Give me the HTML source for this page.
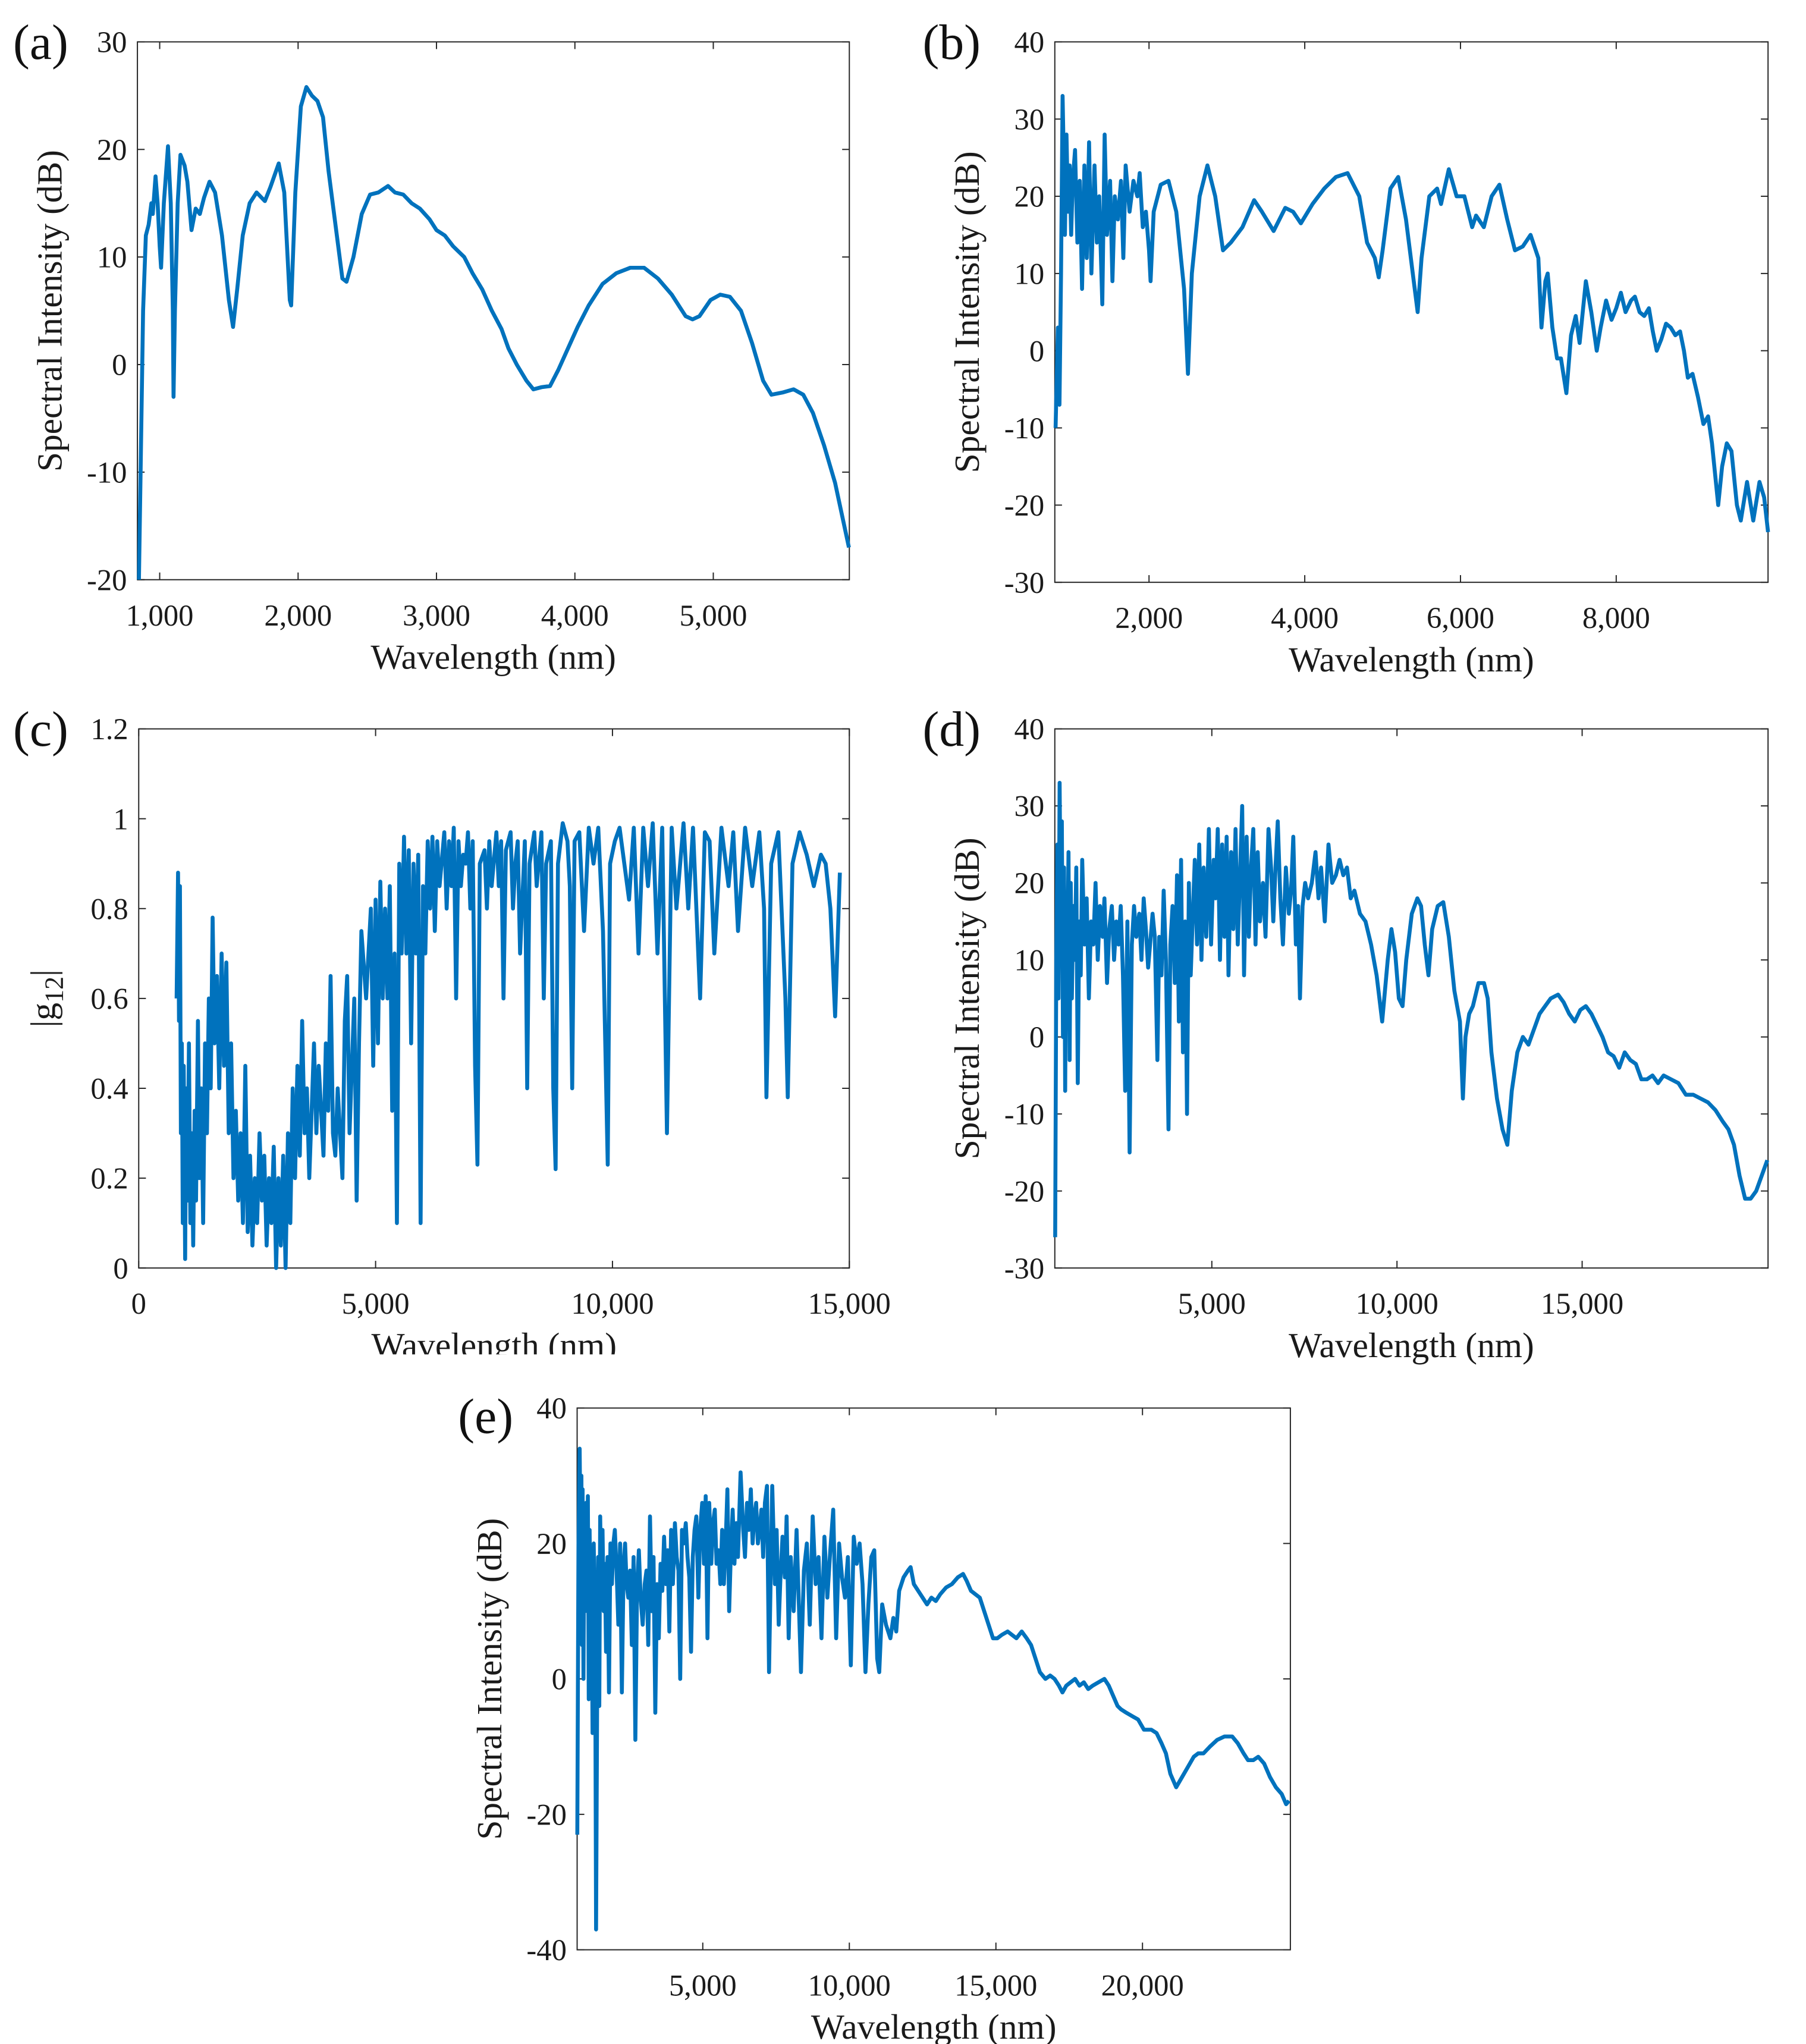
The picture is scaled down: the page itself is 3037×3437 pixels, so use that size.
<!DOCTYPE html>
<html><head><meta charset="utf-8"><style>
html,body{margin:0;padding:0;background:#fff;}
svg{display:block;font-family:"Liberation Serif",serif;}
</style></head><body>
<svg id="fig" xmlns="http://www.w3.org/2000/svg" width="3037" height="3437" viewBox="0 0 1380 1562" preserveAspectRatio="none"></svg>
<script>
// ---- data (wavelength nm, value) ----
const aX=[850,880,900,920,940,950,970,985,1000,1010,1030,1060,1080,1095,1100,1110,1130,1150,1180,1200,1230,1260,1290,1320,1360,1400,1450,1500,1530,1560,1600,1650,1700,1760,1800,1860,1900,1940,1950,1980,2020,2060,2100,2140,2180,2220,2280,2320,2350,2400,2460,2520,2580,2650,2700,2760,2820,2880,2950,3000,3060,3120,3200,3260,3330,3400,3470,3520,3580,3650,3700,3760,3820,3880,3950,4020,4100,4200,4300,4400,4500,4600,4700,4800,4850,4900,4980,5050,5120,5200,5280,5360,5420,5500,5580,5650,5720,5800,5880,5980];
const aY=[-20,5,12,13,15,14,17.5,15,11,9,15,20.3,15,5,-3,5,15,19.5,18.5,17,12.5,14.5,14,15.5,17,16,12,6,3.5,7,12,15,16,15.2,16.5,18.7,16,6,5.5,16,24,25.8,25,24.5,23,18,12,8,7.7,10,14,15.8,16,16.6,16,15.8,15,14.5,13.5,12.5,12,11,10,8.5,7,5,3.3,1.5,0,-1.5,-2.3,-2.1,-2,-0.5,1.5,3.5,5.5,7.5,8.5,9,9,8,6.5,4.5,4.2,4.5,6,6.5,6.3,5,2,-1.5,-2.8,-2.6,-2.3,-2.8,-4.5,-7.5,-11,-17];

const bX=[800,830,850,870,890,905,920,940,960,980,1000,1020,1050,1080,1110,1140,1170,1200,1230,1260,1300,1330,1360,1400,1430,1460,1500,1530,1560,1600,1640,1670,1700,1750,1800,1850,1880,1920,1960,2000,2020,2060,2150,2250,2350,2450,2500,2550,2650,2750,2850,2950,3050,3200,3350,3450,3600,3750,3850,3950,4100,4250,4400,4550,4700,4800,4900,4950,5000,5100,5200,5300,5400,5450,5500,5600,5700,5750,5850,5950,6050,6150,6200,6300,6400,6500,6600,6700,6800,6900,7000,7040,7090,7120,7180,7240,7290,7360,7420,7480,7530,7610,7680,7750,7800,7870,7940,8000,8060,8120,8190,8240,8300,8360,8420,8470,8520,8580,8640,8700,8760,8820,8870,8920,8980,9050,9120,9180,9230,9310,9360,9420,9480,9550,9600,9680,9760,9840,9900,9950];
const bY=[-10,3,-7,10,33,25,15,28,18,24,15,22,26,14,22,8,24,12,27,10,24,14,20,6,28,15,22,9,20,17,22,12,24,18,22,20,23,16,18,13,9,18,21.5,22,18,8,-3,10,20,24,20,13,14,16,19.5,18,15.5,18.5,18,16.5,19,21,22.5,23,20,14,12,9.5,13,21,22.5,17,9,5,12,20,21,19,23.5,20,20,16,17.5,16,20,21.5,17,13,13.5,15,12,3,9,10,3,-1,-1,-5.5,2,4.5,1,9,5,0,3,6.5,4,5.5,7.5,5,6.5,7,5,4.5,5.5,2.5,0,1.5,3.5,3,2,2.5,0,-3.5,-3,-6,-9.5,-8.5,-12,-20,-15,-12,-13,-20,-22,-17,-22,-17,-19,-23.5];

const cX=[800,830,850,870,890,910,930,950,980,1000,1030,1060,1090,1120,1150,1180,1210,1250,1280,1320,1360,1400,1440,1480,1520,1560,1600,1650,1700,1750,1800,1850,1900,1950,2000,2050,2100,2150,2200,2250,2300,2350,2400,2450,2500,2550,2600,2650,2700,2750,2800,2850,2900,2950,3000,3050,3100,3150,3200,3250,3300,3350,3400,3450,3500,3550,3600,3700,3750,3800,3900,3950,4000,4050,4100,4150,4200,4300,4350,4400,4450,4550,4600,4650,4700,4800,4900,4950,5000,5050,5100,5150,5200,5250,5300,5350,5400,5450,5500,5550,5600,5650,5700,5750,5800,5850,5900,5950,6000,6050,6100,6150,6200,6250,6300,6350,6450,6500,6550,6600,6650,6700,6750,6800,6850,6900,6950,7000,7050,7100,7150,7200,7300,7350,7400,7450,7550,7600,7650,7700,7750,7850,7900,7950,8000,8050,8150,8200,8250,8350,8400,8500,8550,8600,8700,8750,8800,8850,8950,9050,9100,9150,9200,9300,9400,9500,9600,9700,9800,9900,9950,10050,10150,10250,10350,10450,10550,10650,10750,10850,10950,11050,11150,11250,11350,11500,11600,11700,11850,11950,12050,12150,12300,12450,12550,12650,12800,12950,13100,13200,13250,13350,13500,13650,13700,13800,13950,14100,14250,14400,14500,14600,14700,14800];
const cY=[0.6,0.88,0.55,0.85,0.3,0.5,0.1,0.45,0.02,0.4,0.15,0.5,0.1,0.3,0.05,0.35,0.15,0.55,0.2,0.4,0.1,0.5,0.3,0.6,0.4,0.78,0.5,0.65,0.4,0.7,0.45,0.68,0.3,0.5,0.2,0.35,0.15,0.3,0.1,0.45,0.08,0.25,0.05,0.2,0.1,0.3,0.15,0.25,0.05,0.2,0.1,0.27,0.0,0.2,0.05,0.25,0.0,0.3,0.1,0.4,0.2,0.45,0.25,0.55,0.3,0.4,0.2,0.5,0.3,0.45,0.25,0.5,0.35,0.65,0.3,0.25,0.4,0.2,0.55,0.65,0.3,0.6,0.15,0.5,0.75,0.6,0.8,0.45,0.82,0.5,0.86,0.6,0.8,0.6,0.85,0.35,0.7,0.1,0.9,0.7,0.96,0.7,0.93,0.5,0.9,0.7,0.92,0.1,0.85,0.7,0.95,0.8,0.96,0.75,0.95,0.85,0.97,0.8,0.95,0.85,0.98,0.6,0.95,0.85,0.92,0.9,0.97,0.8,0.95,0.45,0.23,0.9,0.93,0.8,0.95,0.85,0.97,0.85,0.95,0.6,0.93,0.97,0.8,0.9,0.95,0.7,0.95,0.4,0.9,0.97,0.85,0.97,0.6,0.9,0.95,0.4,0.22,0.9,0.99,0.95,0.85,0.4,0.95,0.97,0.75,0.98,0.9,0.98,0.75,0.23,0.9,0.95,0.98,0.9,0.82,0.98,0.7,0.98,0.85,0.99,0.7,0.98,0.3,0.98,0.8,0.99,0.8,0.98,0.6,0.97,0.95,0.7,0.98,0.85,0.97,0.75,0.98,0.85,0.97,0.8,0.38,0.9,0.97,0.6,0.38,0.9,0.97,0.92,0.85,0.92,0.9,0.8,0.56,0.88];

const dX=[770,800,830,860,890,920,950,980,1010,1040,1070,1100,1130,1160,1190,1220,1260,1300,1340,1380,1420,1460,1500,1560,1620,1680,1740,1800,1860,1920,1980,2050,2100,2170,2230,2300,2360,2420,2480,2540,2600,2660,2720,2780,2840,2900,2960,3040,3100,3160,3220,3280,3350,3400,3460,3530,3580,3640,3700,3760,3830,3880,3940,4000,4060,4110,4170,4220,4280,4330,4380,4430,4480,4540,4600,4660,4720,4780,4850,4920,4980,5050,5100,5160,5220,5280,5340,5400,5450,5520,5580,5640,5700,5760,5820,5870,5940,6000,6060,6120,6180,6240,6300,6380,6450,6530,6600,6660,6720,6780,6850,6920,7000,7080,7140,7200,7270,7330,7380,7450,7520,7600,7700,7800,7880,7950,8050,8150,8250,8350,8450,8550,8650,8750,8850,9000,9150,9300,9450,9600,9750,9850,9950,10050,10150,10250,10400,10550,10650,10750,10850,10950,11100,11250,11400,11550,11700,11780,11850,11950,12050,12200,12350,12450,12550,12700,12850,12980,13100,13250,13400,13550,13700,13850,14000,14150,14350,14500,14650,14800,14950,15100,15250,15400,15550,15700,15850,16000,16150,16300,16450,16600,16750,16900,17050,17200,17400,17600,17800,18000,18200,18400,18600,18800,18950,19100,19250,19400,19550,19700,19850,20000];
const dY=[-26,10,25,5,33,15,28,0,22,-7,18,10,24,-3,20,5,17,10,22,-6,15,8,23,12,18,5,15,12,20,10,17,13,18,7,14,17,10,15,12,17,8,-7,15,-15,12,17,13,16,10,18,14,9,13,16,13,-3,13,8,19,10,-12,12,17,7,21,2,23,-2,15,-10,20,8,15,23,12,25,10,22,13,27,12,23,18,27,10,25,13,26,8,24,14,27,12,21,30,8,26,13,22,27,12,24,15,20,13,27,22,15,22,28,18,12,22,16,19,26,12,17,5,17,20,18,20,24,18,22,15,25,20,21,23,21,22,18,19,16,15,12,8,2,10,14,11,5,4,10,16,18,17,12,8,14,17,17.5,13,6,2,-8,0,3,4,7,7,5,-2,-8,-12,-14,-7,-2,0,-1,1,3,4,5,5.5,4.5,3,2,3.5,4,3,1.5,0,-2,-2.5,-4,-2,-3,-3.5,-5.5,-5.5,-5,-6,-5,-5.5,-6,-7.5,-7.5,-8,-8.5,-9.5,-11,-12,-14,-18,-21,-21,-20,-18,-16];

const eX=[720,760,800,830,860,880,900,930,960,990,1020,1050,1080,1110,1140,1170,1200,1240,1280,1330,1360,1400,1430,1470,1500,1540,1580,1620,1660,1700,1750,1800,1850,1900,1950,2000,2060,2120,2180,2240,2300,2350,2400,2460,2520,2580,2640,2700,2760,2820,2880,2950,3020,3080,3140,3200,3260,3320,3380,3440,3500,3560,3620,3680,3740,3800,3860,3920,3980,4050,4110,4170,4230,4290,4350,4420,4480,4540,4600,4660,4720,4780,4850,4910,4980,5040,5100,5160,5220,5290,5350,5410,5470,5540,5600,5660,5720,5780,5840,5900,5960,6020,6080,6140,6200,6290,6380,6440,6510,6570,6640,6700,6760,6820,6880,6940,7000,7060,7120,7190,7260,7370,7460,7520,7590,7650,7720,7800,7860,7930,8000,8100,8200,8350,8450,8550,8650,8750,8850,8950,9050,9150,9250,9350,9450,9550,9650,9750,9850,9950,10050,10150,10250,10350,10450,10550,10650,10750,10850,10950,11020,11120,11250,11400,11500,11600,11700,11850,12000,12090,12200,12350,12500,12650,12800,12950,13100,13300,13500,13700,13880,14000,14150,14300,14450,14600,14750,14900,15050,15200,15400,15550,15700,15880,16050,16200,16350,16500,16690,16850,17000,17150,17270,17400,17550,17700,17850,18000,18150,18300,18500,18700,18850,19000,19150,19270,19450,19650,19850,20050,20300,20480,20650,20800,20950,21150,21350,21550,21750,21900,22080,22300,22550,22800,23060,23250,23450,23600,23780,23950,24150,24350,24550,24750,24900,25000];
const eY=[-23,20,34,20,30,5,28,0,25,10,26,12,27,-3,22,8,18,-8,20,5,-37,0,18,-4,24,12,22,10,17,4,18,-2,20,14,20,22,16,8,20,-2,17,20,14,12,16,5,18,-9,14,19,12,8,14,16,5,24,10,18,-5,14,6,17,13,21,14,19,7,22,14,23,18,16,0,22,20,23,18,15,4,18,22,24,12,22,26,17,27,6,26,17,23,25,17,19,14,22,14,20,28,10,19,25,17,23,18,30.5,22,18,26,22,28,20,24,26,20,22,25,18,26,28.5,1,28.5,14,22,8,15,21,15,24,6,18,10,22,1,16,20,8,24,14,18,6,21,12,19,25,6,20,15,12,18,2,21,17,20,14,1,11,18,19,3,1,11,8,6,9,7,13,15,16,16.5,14,13,12,11,12,11.5,12.5,13.5,14,15,15.5,14.5,13,12.5,12,10,8,6,6,6.5,7,6.5,6,7,6,5,3,1,0,0.5,0,-1,-2,-1,-0.5,0,-1,-0.5,-1.5,-1,-0.5,0,-1,-2.5,-4,-4.5,-5,-5.5,-6,-7.5,-7.5,-8,-9.5,-11,-14,-16,-14.5,-13,-11.5,-11,-11,-10,-9,-8.5,-8.5,-9.5,-11,-12,-12,-11.5,-12.5,-14.5,-16,-17,-18.5,-18];

// tick arrays
const aXT=[1000,2000,3000,4000,5000], aYT=[-20,-10,0,10,20,30];
const bXT=[2000,4000,6000,8000], bYT=[-30,-20,-10,0,10,20,30,40];
const cXT=[0,5000,10000,15000], cYT=[0,0.2,0.4,0.6,0.8,1,1.2];
const dXT=[5000,10000,15000], dYT=[-30,-20,-10,0,10,20,30,40];
const eXT=[5000,10000,15000,20000], eYT=[-40,-20,0,20,40];

const NS="http://www.w3.org/2000/svg";
const svg=document.getElementById('fig');
function mk(tag,attrs,parent){const e=document.createElementNS(NS,tag);for(const k in attrs)e.setAttribute(k,attrs[k]);(parent||svg).appendChild(e);return e;}
function fmt(v){if(Math.abs(v)>=1000)return v.toLocaleString('en-US');return String(v);}

function panel(id,letter,box,xd,yd,xs,ys,xt,yt,ylabel,lbl){
  const g=mk('g',{});
  
  
  const [L,T,R,B]=box;
  const sx=v=>L+(v-xd[0])/(xd[1]-xd[0])*(R-L);
  const sy=v=>B-(v-yd[0])/(yd[1]-yd[0])*(B-T);
  const fr=mk('rect',{x:L,y:T,width:R-L,height:B-T,fill:'none',stroke:'#262626','stroke-width':0.9},g);
  
  
  xt.forEach(v=>{
    const x=sx(v);
    mk('line',{x1:x,y1:B,x2:x,y2:B-5.5,stroke:'#262626','stroke-width':0.9},g);
    mk('line',{x1:x,y1:T,x2:x,y2:T+5.5,stroke:'#262626','stroke-width':0.9},g);
    const t=mk('text',{x:x,y:B+35,'font-size':23,'text-anchor':'middle',fill:'#1a1a1a'},g);
    t.textContent=fmt(v);
    
    
  });
  yt.forEach(v=>{
    const y=sy(v);
    mk('line',{x1:L,y1:y,x2:L+5.5,y2:y,stroke:'#262626','stroke-width':0.9},g);
    mk('line',{x1:R,y1:y,x2:R-5.5,y2:y,stroke:'#262626','stroke-width':0.9},g);
    const t=mk('text',{x:L-8,y:y+8,'font-size':23,'text-anchor':'end',fill:'#1a1a1a'},g);
    t.textContent=fmt(v);
    
    
  });
  let d='';
  for(let i=0;i<xs.length;i++){d+=(i?'L':'M')+sx(xs[i]).toFixed(2)+','+sy(ys[i]).toFixed(2);}
  const p=mk('path',{d:d,fill:'none',stroke:'#0072BD','stroke-width':3,'stroke-linejoin':'round'},g);
  
  
  const xl=mk('text',{x:(L+R)/2,y:B+68,'font-size':27,'text-anchor':'middle',fill:'#1a1a1a'},g);
  xl.textContent='Wavelength (nm)';
  
  
  const yl=mk('text',{transform:'translate('+ylabel[0]+','+((T+B)/2)+') rotate(-90)','font-size':27,'text-anchor':'middle',fill:'#1a1a1a'},g);
  if(ylabel[1]==='g'){
    yl.innerHTML='|g<tspan font-size="20" dy="6">12</tspan><tspan dy="-6">|</tspan>';
  } else yl.textContent='Spectral Intensity (dB)';
  
  
  const pl=mk('text',{x:lbl[0],y:lbl[1],'font-size':38,fill:'#111'},g);
  pl.textContent='('+letter+')';
  
  
}
panel('a','a',[105,32,649,443],[839,5983],[-20,30],aX,aY,aXT,aYT,[47,'s'],[10,45]);
panel('b','b',[806,32,1351,445],[790,9950],[-30,40],bX,bY,bXT,bYT,[748,'s'],[705,45]);
panel('c','c',[106,557,649,969],[0,15000],[0,1.2],cX,cY,cXT,cYT,[42,'g'],[10,570]);
panel('d','d',[806,557,1351,969],[760,20020],[-30,40],dX,dY,dXT,dYT,[748,'s'],[705,570]);
panel('e','e',[441,1076,986,1490],[714,25045],[-40,40],eX,eY,eXT,eYT,[383,'s'],[350,1095]);
// clip bottom of panel c x-axis title as in reference
const cov=mk('rect',{x:250,y:1035,width:280,height:25,fill:'#fff'});


</script>
</body></html>
